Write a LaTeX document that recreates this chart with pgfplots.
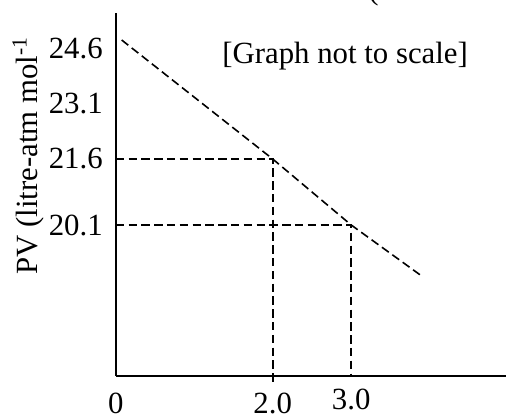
\documentclass[border=0pt]{standalone}
\usepackage{fontspec}
\setmainfont{Liberation Serif}
\usepackage{pgfplots}
\pgfplotsset{compat=1.18}
\newcommand\fsz{\fontsize{15.4}{18}\selectfont}
\begin{document}
\begin{tikzpicture}
% y is in drawing units (graph not to scale), real values are the tick labels
\begin{axis}[
    anchor=origin, at={(57.85pt,19.15pt)},
    x=39.25pt, y=5pt,
    xmin=0, xmax=5, ymin=0, ymax=36.27,
    axis lines=left,
    axis line style={-, line width=1pt},
    every outer x axis line/.append style={-},
    every outer y axis line/.append style={-},
    clip=false,
    major tick length=0pt,
    xtick={0,2}, xticklabels={0,2.0},
    extra x ticks={3}, extra x tick labels={3.0},
    extra x tick style={grid=none, xticklabel style={yshift=2pt}},
    ytick={15.07,21.67,27.17,32.74},
    yticklabels={20.1,21.6,23.1,24.6},
    /pgf/number format/assume math mode=true,
    tick label style={font=\fsz},
    xticklabel style={anchor=north, inner sep=0pt, yshift=-8.6pt},
    yticklabel style={anchor=east, inner sep=0pt, xshift=-6.3pt},
]
\addplot[black, line width=0.8pt, dash pattern=on 4.2pt off 2.2pt]
    coordinates {(0.076,33.57) (2,21.67) (3,15.07) (3.91,9.9)};
\addplot[black, line width=0.8pt, dash pattern=on 4.2pt off 2.2pt]
    coordinates {(0,21.67) (2,21.67) (2,-0.6)};
\addplot[black, line width=0.8pt, dash pattern=on 4.2pt off 2.2pt]
    coordinates {(0,15.07) (3,15.07) (3,0)};
\end{axis}
\node[anchor=base west, inner sep=0pt, font=\fsz] at (111pt,175.5pt) {[Graph not to scale]};
\node[anchor=base west, rotate=90, inner sep=0pt, font=\fsz] at (18.5pt,69.5pt) {PV (litre-atm mol\textsuperscript{-1}};
\node[anchor=base west, inner sep=0pt, font=\fsz] at (184pt,207.5pt) {(};
\pgfresetboundingbox
\path[use as bounding box] (0,0) rectangle (253pt,207pt);
\end{tikzpicture}
\end{document}
